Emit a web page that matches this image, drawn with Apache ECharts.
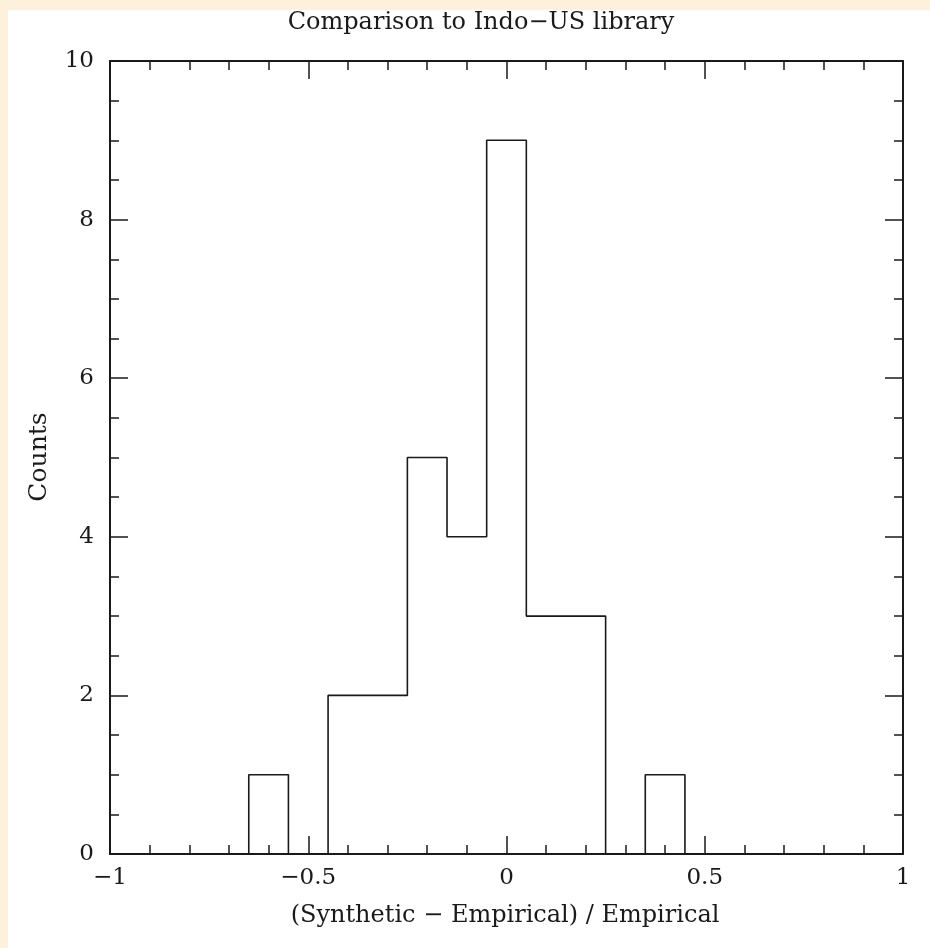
<!DOCTYPE html>
<html><head><meta charset="utf-8">
<script src="https://cdn.jsdelivr.net/npm/echarts@6/dist/echarts.min.js"></script>
<style>
html,body{margin:0;padding:0;background:#FDF1DC;}
#wrap{position:relative;width:930px;height:948px;background:#FDF1DC;overflow:hidden}
#chart{position:absolute;left:8px;top:10px;width:922px;height:938px;background:#fff}
</style></head><body><div id="wrap"><div id="chart"></div></div>
<script>
// Histogram bin centres (bin width 0.1) and counts
const binCenters = [-1.0, -0.9, -0.8, -0.7, -0.6, -0.5, -0.4, -0.3, -0.2, -0.1, 0.0, 0.1, 0.2, 0.3, 0.4, 0.5, 0.6, 0.7, 0.8, 0.9, 1.0];
const counts     = [0, 0, 0, 0, 1, 0, 2, 2, 5, 4, 9, 3, 3, 0, 1, 0, 0, 0, 0, 0, 0];
const titleText = 'Comparison to Indo\u2212US library';
const xAxisTitle = '(Synthetic \u2212 Empirical) / Empirical';
const yAxisTitle = 'Counts';

const FONT = 'DejaVu Serif';
const INK = '#1a1a1a';
const chart = echarts.init(document.getElementById('chart'), null, {renderer: 'canvas'});

const axisCommon = {
  axisLine: {show: true, onZero: false, lineStyle: {color: INK, width: 2}},
  axisTick: {show: true, inside: true, length: 18, lineStyle: {color: INK, width: 1.5}},
  minorTick: {show: true, length: 9, lineStyle: {color: INK, width: 1.5}},
  splitLine: {show: false},
  minorSplitLine: {show: false}
};
const fmt = v => String(v).replace('-', '\u2212');

chart.setOption({
  animation: false,
  backgroundColor: '#ffffff',
  grid: {left: 102, right: 27, top: 51, bottom: 94, containLabel: false},
  xAxis: [
    Object.assign({}, axisCommon, {
      type: 'value', position: 'bottom', min: -1, max: 1, interval: 0.5,
      minorTick: Object.assign({}, axisCommon.minorTick, {splitNumber: 5}),
      axisLabel: {show: true, margin: 13, fontFamily: FONT, fontSize: 23, color: INK, formatter: fmt}
    }),
    Object.assign({}, axisCommon, {
      type: 'value', position: 'top', min: -1, max: 1, interval: 0.5,
      minorTick: Object.assign({}, axisCommon.minorTick, {splitNumber: 5}),
      axisLabel: {show: false}
    })
  ],
  yAxis: [
    Object.assign({}, axisCommon, {
      type: 'value', position: 'left', min: 0, max: 10, interval: 2,
      minorTick: Object.assign({}, axisCommon.minorTick, {splitNumber: 4}),
      axisLabel: {show: true, margin: 16, fontFamily: FONT, fontSize: 23, color: INK}
    }),
    Object.assign({}, axisCommon, {
      type: 'value', position: 'right', min: 0, max: 10, interval: 2,
      minorTick: Object.assign({}, axisCommon.minorTick, {splitNumber: 4}),
      axisLabel: {show: false}
    })
  ],
  graphic: [
    {type: 'text', x: 473, y: 13, style: {text: titleText, fontFamily: FONT, fontSize: 24, fill: INK, textAlign: 'center', textVerticalAlign: 'middle'}},
    {type: 'text', x: 497, y: 906, style: {text: xAxisTitle, fontFamily: FONT, fontSize: 24, fill: INK, textAlign: 'center', textVerticalAlign: 'middle'}},
    {type: 'text', x: 31, y: 447, rotation: Math.PI / 2, style: {text: yAxisTitle, fontFamily: FONT, fontSize: 25, fill: INK, textAlign: 'center', textVerticalAlign: 'middle'}}
  ],
  series: [{
    type: 'line', step: 'middle', xAxisIndex: 0, yAxisIndex: 0,
    data: binCenters.map((x, i) => [x, counts[i]]),
    symbol: 'none', clip: false,
    lineStyle: {color: INK, width: 1.6}
  }]
});
</script></body></html>
